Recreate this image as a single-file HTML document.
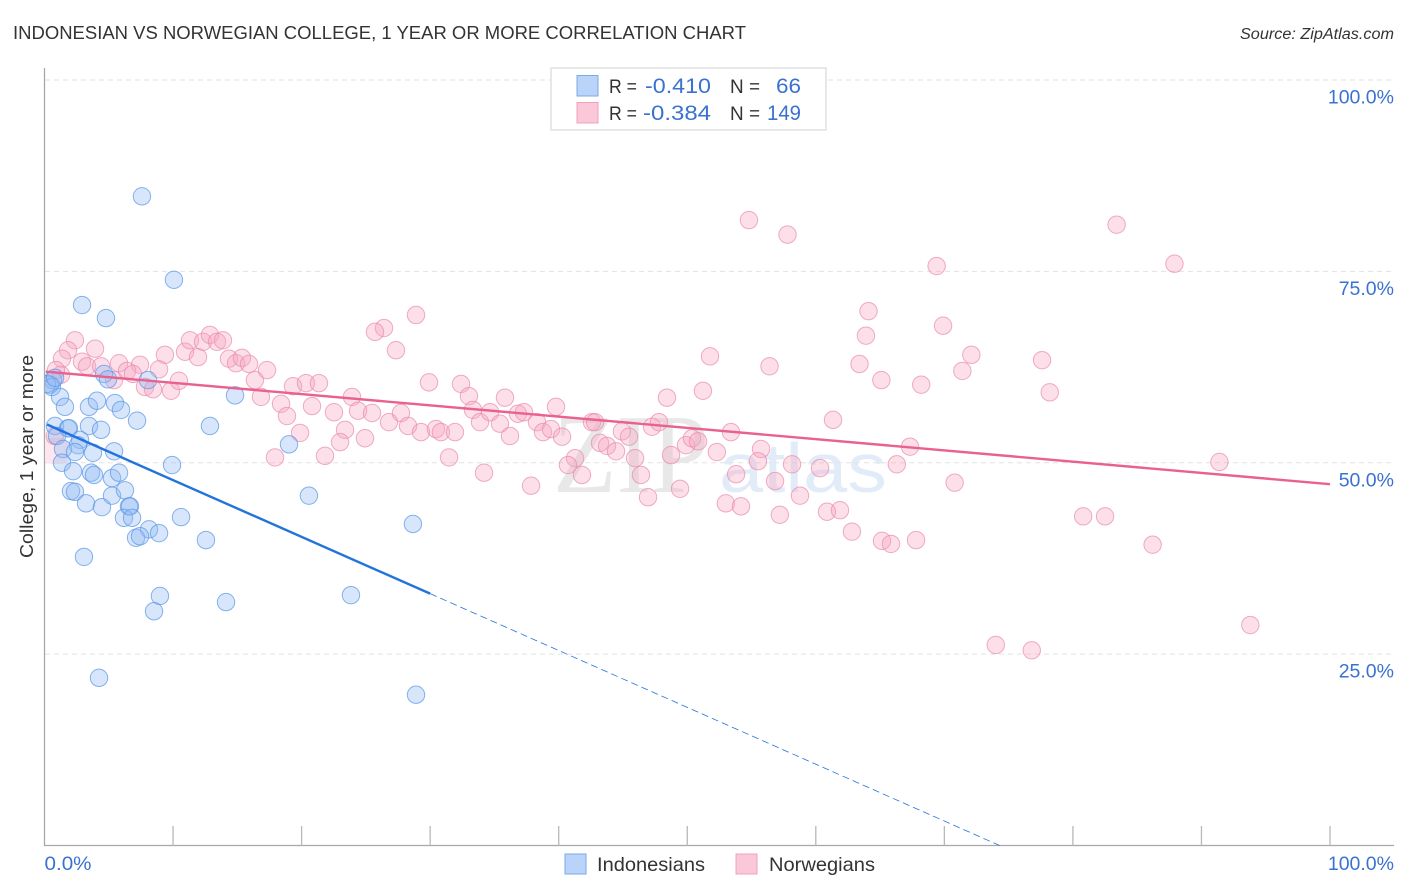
<!DOCTYPE html>
<html lang="en">
<head>
<meta charset="utf-8">
<title>Indonesian vs Norwegian College, 1 Year or More Correlation Chart</title>
<style>
html,body{margin:0;padding:0;background:#fff;}
svg{display:block;font-family:"Liberation Sans",sans-serif;}
</style>
</head>
<body>
<svg id="chart" xmlns="http://www.w3.org/2000/svg" width="1406" height="892" viewBox="0 0 1406 892">
  <defs>
    <clipPath id="plot-clip"><rect x="45" y="60" width="1349" height="785"></rect></clipPath>
  </defs>
  <text x="13" y="39" font-size="18" fill="#333" textLength="733" lengthAdjust="spacingAndGlyphs">INDONESIAN VS NORWEGIAN COLLEGE, 1 YEAR OR MORE CORRELATION CHART</text>
  <text x="1394" y="39" font-size="15.5" font-style="italic" fill="#333" text-anchor="end" textLength="154" lengthAdjust="spacingAndGlyphs">Source: ZipAtlas.com</text>

  <text x="553" y="492" font-size="112" fill="#e8e8e8" font-family="'Liberation Serif',serif" textLength="156" lengthAdjust="spacingAndGlyphs">ZIP</text>
  <text x="719" y="492" font-size="70" fill="#e2ecf9" textLength="168" lengthAdjust="spacingAndGlyphs">atlas</text>

  <g id="grid"></g>
  <g id="axes"></g>
  <g id="pink-pts" clip-path="url(#plot-clip)">
    <rect x="45" y="438" width="23" height="26" rx="6" fill="#fde6ed"></rect>
  </g>
  <g id="blue-pts" clip-path="url(#plot-clip)"></g>
  <g id="trends"></g>
  <g id="labels"></g>

  <text transform="translate(33,558) rotate(-90)" font-size="18.5" fill="#333" textLength="203" lengthAdjust="spacingAndGlyphs">College, 1 year or more</text>

  <g>
    <rect x="551" y="68" width="275" height="62" fill="#fff" stroke="#e0e0e0" stroke-width="1.5"></rect>
    <rect x="577" y="75.5" width="21" height="20.5" fill="#b9d4f8" stroke="#7ba8e6" stroke-width="1"></rect>
    <rect x="577" y="102.5" width="21" height="20.5" fill="#fbc8d9" stroke="#f0a0bc" stroke-width="1"></rect>
    <text x="609" y="93" font-size="19.5" fill="#333" textLength="28" lengthAdjust="spacingAndGlyphs">R =</text>
    <text x="645" y="93" font-size="21" fill="#3a72d0" textLength="66" lengthAdjust="spacingAndGlyphs">-0.410</text>
    <text x="730" y="93" font-size="19.5" fill="#333" textLength="30" lengthAdjust="spacingAndGlyphs">N =</text>
    <text x="776" y="93" font-size="21" fill="#3a72d0" textLength="25" lengthAdjust="spacingAndGlyphs">66</text>
    <text x="609" y="120" font-size="19.5" fill="#333" textLength="28" lengthAdjust="spacingAndGlyphs">R =</text>
    <text x="643" y="120" font-size="21" fill="#3a72d0" textLength="68" lengthAdjust="spacingAndGlyphs">-0.384</text>
    <text x="730" y="120" font-size="19.5" fill="#333" textLength="30" lengthAdjust="spacingAndGlyphs">N =</text>
    <text x="767" y="120" font-size="21" fill="#3a72d0" textLength="34" lengthAdjust="spacingAndGlyphs">149</text>
  </g>

  <g>
    <rect x="565" y="854" width="21" height="20" fill="#b9d4f8" stroke="#7ba8e6" stroke-width="1"></rect>
    <text x="597" y="871" font-size="19.5" fill="#333" textLength="108" lengthAdjust="spacingAndGlyphs">Indonesians</text>
    <rect x="736" y="854" width="21" height="20" fill="#fbc8d9" stroke="#f0a0bc" stroke-width="1"></rect>
    <text x="769" y="871" font-size="19.5" fill="#333" textLength="106" lengthAdjust="spacingAndGlyphs">Norwegians</text>
  </g>
</svg>
<script>
var indonesianX = [7.58,10.07,2.92,4.78,4.63,4.94,8.05,0.66,0.43,0.19,0.58,0.82,1.21,1.59,3.46,4.08,5.48,5.95,7.2,14.82,12.87,0.82,1.83,1.9,3.46,4.4,0.97,2.76,2.6,1.44,2.37,3.77,5.41,9.92,19.02,1.36,2.22,3.62,3.85,5.25,5.8,2.06,2.37,3.23,4.47,5.25,6.26,6.57,6.65,6.18,6.81,10.62,8.13,8.91,7.12,7.43,12.56,3.07,20.57,28.66,8.98,8.52,14.12,23.84,4.24,28.9];
var indonesianY = [84.8,73.9,70.6,68.9,61.6,60.9,60.8,60.8,60.2,60.3,59.9,61.1,58.6,57.3,57.3,58.1,57.8,56.9,55.5,58.8,54.8,54.8,54.5,54.5,54.8,54.3,53.5,53.0,52.3,51.8,51.4,51.3,51.5,49.7,52.4,50.0,48.9,48.7,48.4,48.0,48.7,46.3,46.2,44.7,44.2,45.7,46.4,44.3,44.3,42.8,42.8,42.9,41.3,40.8,40.2,40.4,39.9,37.7,45.7,42.0,32.6,30.6,31.8,32.7,21.9,19.7];
var norwegianX = [2.37,1.83,1.36,3.93,2.92,3.31,4.4,5.8,7.43,9.37,8.91,6.42,6.88,7.82,8.44,9.84,10.46,5.41,1.28,0.89,10.93,11.32,11.94,12.33,12.87,13.42,13.88,14.35,14.9,15.36,15.91,16.37,16.84,17.31,19.33,20.34,21.35,18.4,18.86,20.81,22.52,23.92,24.39,25.48,19.88,23.38,22.99,24.93,21.82,17.93,26.8,27.73,28.28,29.29,30.45,30.84,31.93,28.9,26.41,25.71,27.34,29.91,32.4,33.02,33.33,33.88,34.66,34.19,31.47,35.82,35.43,36.83,37.3,36.21,39.79,38.31,38.78,39.4,40.26,42.59,42.83,44.92,45.47,43.21,43.76,44.46,41.27,40.72,41.81,37.85,45.94,46.4,46.95,49.44,48.74,49.9,50.37,50.84,47.26,47.8,48.42,51.22,51.77,52.3,53.4,53.8,55.74,55.5,58.15,60.33,56.83,61.34,58.77,53.0,54.18,57.2,60.87,61.88,62.81,65.15,65.85,67.8,67.33,66.3,70.8,80.8,82.5,86.2,91.4,93.8,74.0,76.8,54.8,57.8,83.4,87.9,69.4,64.1,63.9,69.9,72.1,77.6,71.4,68.2,65.1,63.4,78.2,56.4,0.8];
var norwegianY = [66.0,64.7,63.6,64.9,63.2,62.6,62.6,63.0,62.8,64.1,62.2,62.0,61.6,59.9,59.6,59.4,60.7,60.8,61.5,62.1,64.5,66.0,63.8,65.8,66.7,65.8,66.0,63.6,63.0,63.7,62.9,60.8,58.6,62.1,60.0,60.4,60.4,57.7,56.1,57.4,56.6,58.6,56.8,56.5,53.9,54.3,52.7,53.2,50.9,50.7,55.3,56.5,54.8,54.0,54.4,54.0,54.0,69.3,67.6,67.1,64.7,60.5,60.3,58.7,56.9,55.3,56.6,48.7,50.7,58.5,55.1,56.4,56.6,53.5,57.3,55.3,54.0,54.4,53.4,55.3,55.3,54.1,53.4,52.6,52.2,51.5,50.6,49.7,48.4,47.0,50.6,48.4,45.5,46.6,51.0,52.3,53.2,52.8,54.7,55.3,58.5,59.4,63.9,51.4,54.0,48.5,51.8,50.2,49.8,49.3,47.6,55.6,45.7,44.7,44.3,43.2,43.6,43.8,41.0,39.8,39.4,39.9,52.1,49.8,47.4,43.0,43.0,39.3,50.1,28.8,26.2,25.5,81.7,79.8,81.1,76.0,75.7,69.8,66.6,67.9,64.1,63.4,62.0,60.2,60.8,62.9,59.2,62.6,53.5];
var norwegianTrendX = [0.1, 100];
var norwegianTrendY = [61.9, 47.2];
var indonesianTrendX = [0.2, 30];
var indonesianTrendY = [55.0, 32.9];
var indonesianDashX = [30, 74.3];
var indonesianDashY = [32.9, 0];
var xTicks = [0,10,20,30,40,50,60,70,80,90,100];
var gridValues = [25,50,75,100];
var yTickLabels = ["25.0%","50.0%","75.0%","100.0%"];
var xEdgeValues = [0,100];
var xEdgeLabels = ["0.0%","100.0%"];

var SVG_NS = 'http://www.w3.org/2000/svg';
function sx(v){ return 44.5 + v * 12.855; }
function sy(v){ return 845.5 - v * 7.655; }
function make(tag, parentId){
  var el = document.createElementNS(SVG_NS, tag);
  document.getElementById(parentId).appendChild(el);
  return el;
}
function attrs(el, o){ for (var k in o) el.setAttribute(k, o[k]); }

gridValues.forEach(function(v){
  var l = make('line', 'grid');
  
  
  attrs(l, {x1:45, x2:1394, y1:sy(v), y2:sy(v), stroke:'#e2e2e2', 'stroke-width':1, 'stroke-dasharray':'5 4'});
});

var yAxis = make('line', 'axes');


attrs(yAxis, {x1:44.5, x2:44.5, y1:68, y2:846, stroke:'#a8a8a8', 'stroke-width':1.3});
var xAxis = make('line', 'axes');


attrs(xAxis, {x1:44, x2:1394, y1:845.5, y2:845.5, stroke:'#a8a8a8', 'stroke-width':1.3});
xTicks.forEach(function(v){
  if (v === 0) return;
  var t = make('line', 'axes');
  
  
  attrs(t, {x1:sx(v), x2:sx(v), y1:826, y2:845.5, stroke:'#b8b8b8', 'stroke-width':1.3});
});

norwegianX.forEach(function(v, i){
  var c = make('circle', 'pink-pts');
  
  
  attrs(c, {cx:sx(v), cy:sy(norwegianY[i]), r:8.7, fill:'#f7a6c2', 'fill-opacity':0.36, stroke:'#e88aac', 'stroke-opacity':0.7, 'stroke-width':1});
});
indonesianX.forEach(function(v, i){
  var c = make('circle', 'blue-pts');
  
  
  attrs(c, {cx:sx(v), cy:sy(indonesianY[i]), r:8.7, fill:'#8fbbf3', 'fill-opacity':0.36, stroke:'#5a96e6', 'stroke-opacity':0.72, 'stroke-width':1});
});

var pinkLine = make('line', 'trends');


attrs(pinkLine, {x1:sx(norwegianTrendX[0]), y1:sy(norwegianTrendY[0]), x2:sx(norwegianTrendX[1]), y2:sy(norwegianTrendY[1]), stroke:'#e9628f', 'stroke-width':2.4});
var blueLine = make('line', 'trends');


attrs(blueLine, {x1:sx(indonesianTrendX[0]), y1:sy(indonesianTrendY[0]), x2:sx(indonesianTrendX[1]), y2:sy(indonesianTrendY[1]), stroke:'#2273dc', 'stroke-width':2.4});
var blueDash = make('line', 'trends');


attrs(blueDash, {x1:sx(indonesianDashX[0]), y1:sy(indonesianDashY[0]), x2:sx(indonesianDashX[1]), y2:sy(indonesianDashY[1]), stroke:'#2273dc', 'stroke-width':0.8, 'stroke-dasharray':'7 4'});

gridValues.forEach(function(v, i){
  var t = make('text', 'labels');
  
  
  attrs(t, {x:1394, y:sy(v) + 23.5, 'font-size':19.5, fill:'#3a72d0', 'text-anchor':'end'});
  t.textContent = yTickLabels[i];
});
xEdgeValues.forEach(function(v, i){
  var t = make('text', 'labels');
  
  
  attrs(t, i === 0 ? {x:sx(v), y:870, 'font-size':19.5, fill:'#3a72d0', textLength:47, lengthAdjust:'spacingAndGlyphs'} : {x:1394, y:870, 'font-size':19.5, fill:'#3a72d0', 'text-anchor':'end'});
  t.textContent = xEdgeLabels[i];
});
</script>
</body>
</html>
